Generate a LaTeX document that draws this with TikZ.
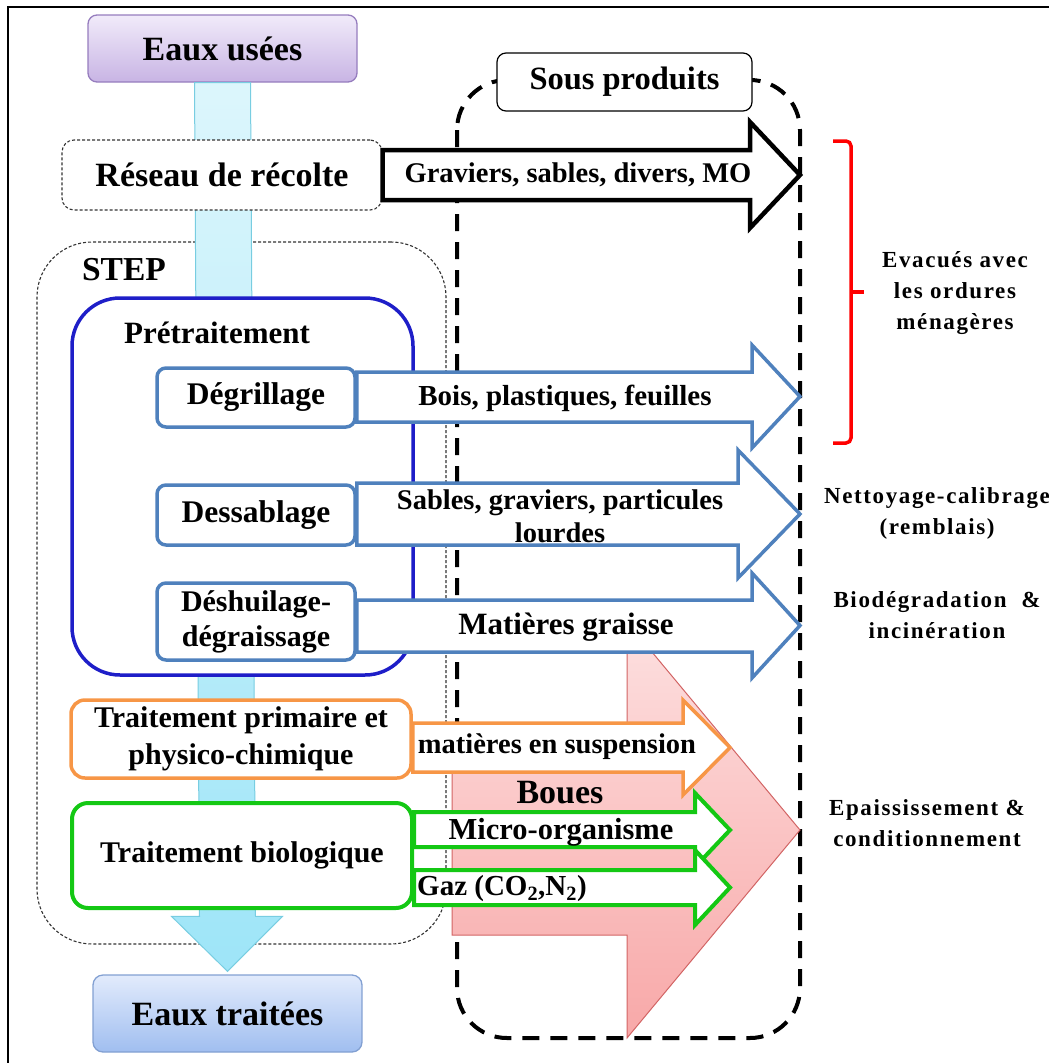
\documentclass[tikz,border=0pt]{standalone}
\usepackage{fontspec}
\setmainfont{Liberation Serif}
\usetikzlibrary{calc}

\definecolor{pretblue}{RGB}{30,30,200}
\definecolor{stblue}{RGB}{79,129,189}
\definecolor{orng}{RGB}{247,150,70}
\definecolor{grn}{RGB}{20,200,20}
\definecolor{pinktop}{RGB}{253,224,224}
\definecolor{pinkbot}{RGB}{248,168,168}
\definecolor{pinkline}{RGB}{210,100,100}
\definecolor{bandtop}{RGB}{220,246,252}
\definecolor{bandbot}{RGB}{158,229,248}
\definecolor{bandline}{RGB}{120,205,225}
\definecolor{eutop}{RGB}{241,235,250}
\definecolor{eubot}{RGB}{200,180,228}
\definecolor{euline}{RGB}{150,125,190}
\definecolor{ettop}{RGB}{226,235,252}
\definecolor{etbot}{RGB}{160,190,240}
\definecolor{etline}{RGB}{130,160,210}

\newcommand\fsz[2]{\fontsize{#1}{#2}\selectfont\bfseries}

% block arrow: style, start anchor, body top, body bottom, shoulder x, head top, head bottom, tip x
\newcommand\blockarrow[8]{%
  \draw[#1] (#2 |- 0,#3) -- (#5,#3) -- (#5,#6) -- (#8,{(#6+#7)/2})
    -- (#5,#7) -- (#5,#4) -- (#2 |- 0,#4) -- cycle;}

\tikzset{
  lbl/.style={inner sep=0pt, align=center, text=black},
  thindash/.style={draw=black!80, line width=1.1pt, dash pattern=on 3pt off 2pt},
  substep/.style={draw=stblue, line width=3.5pt, fill=white, rounded corners=9pt,
    minimum width=198pt, align=center, font=\fsz{31.5}{35}},
  stubarrow/.style={draw=stblue, line width=3.5pt, fill=white, line join=miter},
}

\begin{document}
\begin{tikzpicture}[x=1pt, y=-1pt]
\useasboundingbox (0,0) rectangle (1049,1063);

% frame edges
\draw[line width=2.2pt] (8,1063) -- (8,7) -- (1049,7);

% by-products enclosure
\draw[line width=4pt, dash pattern=on 17pt off 11pt, rounded corners=50pt]
  (457,80) rectangle (800,1038);

% STEP enclosure
\node[thindash, rounded corners=55pt, minimum width=409pt, minimum height=702pt]
  (step) at (241.5,593) {};
\node[lbl, font=\fsz{33.5}{38}] (steplbl) at (124,270) {STEP};

% input / output boxes
\node[draw=euline, line width=1.3pt, rounded corners=9pt, top color=eutop, bottom color=eubot,
  minimum width=269pt, minimum height=67pt, font=\fsz{34}{38}] (eu) at (222.5,48.5) {Eaux usées};
\node[draw=etline, line width=1.3pt, rounded corners=10pt, top color=ettop, bottom color=etbot,
  minimum width=269pt, minimum height=77pt, font=\fsz{34}{38}] (et) at (227.5,1013.5) {Eaux traitées};

% main water flow
\draw[draw=bandline, line width=1pt, top color=bandtop, bottom color=bandbot]
  ($(eu.south)+(-28,0)$) -- ($(et.north)+(-28,-58)$) -- ($(et.north)+(-56,-58)$)
  -- ($(et.north)+(0,-3)$) -- ($(et.north)+(55,-58)$) -- ($(et.north)+(28,-58)$)
  -- ($(eu.south)+(28,0)$) -- cycle;

% collection network
\node[thindash, fill=white, rounded corners=12pt, minimum width=320pt, minimum height=70pt,
  font=\fsz{34}{38}] (res) at (222,175) {Réseau de récolte};

% pretreatment block
\node[draw=pretblue, line width=3.5pt, fill=white, rounded corners=48pt,
  minimum width=341pt, minimum height=377pt] (pre) at (242.5,486.5) {};
\node[lbl, font=\fsz{31}{35}] (prelbl) at (217,333) {Prétraitement};

% by-products label
\node[draw=black, line width=1.2pt, fill=white, rounded corners=9pt, minimum width=255pt,
  minimum height=58pt, font=\fsz{32.5}{36}] (sp) at (624.5,82) {Sous produits};

% sludge arrow
\draw[draw=pinkline, line width=1pt, top color=pinktop, bottom color=pinkbot]
  (452,750) -- (627,750) -- (627,622) -- (800,830) -- (627,1038) -- (627,935) -- (452,935) -- cycle;
\node[lbl, font=\fsz{34}{38}] (boues) at (560,793) {Boues};

% pretreatment steps
\node[substep, minimum height=59pt] (deg) at (256,397.5) {Dégrillage};
\node[substep, minimum height=60pt] (des) at (256,515) {Dessablage};
\node[substep, minimum height=77pt, font=\fsz{30}{35}] (desh) at (256,621.5) {Déshuilage-\\dégraissage};

% primary and biological treatment
\node[draw=orng, line width=3.5pt, fill=white, rounded corners=14pt, minimum width=340pt,
  minimum height=78pt, align=center, font=\fsz{30}{37}] (tp) at (241,739)
  {Traitement primaire et\\physico-chimique};
\node[draw=grn, line width=4pt, fill=white, rounded corners=16pt, minimum width=340pt,
  minimum height=105pt, font=\fsz{30}{34}] (tb) at (242,855.5) {Traitement biologique};

% by-product arrows
\blockarrow{draw=black, line width=4.5pt, fill=white, line join=miter}{res.east}{150}{200}{750}{122}{228}{800}
\node[lbl, font=\fsz{28.5}{32}] (grav) at (578,175) {Graviers, sables, divers, MO};

\blockarrow{stubarrow}{des.east}{483}{545}{738}{450}{578}{800}
\node[lbl, font=\fsz{28.5}{33}] (sab) at (560,516) {Sables, graviers, particules\\lourdes};
\blockarrow{stubarrow}{deg.east}{372}{422}{752}{345}{448}{800}
\node[lbl, font=\fsz{29}{32}] (bois) at (565,398) {Bois, plastiques, feuilles};
\blockarrow{stubarrow}{desh.east}{600}{652}{752}{573}{678}{800}
\node[lbl, font=\fsz{31}{34}] (graisse) at (566,627) {Matières graisse};

\blockarrow{draw=orng, line width=3.5pt, fill=white}{tp.east}{723}{772}{683}{700}{795}{730}
\node[lbl, font=\fsz{28.5}{32}] (susp) at (557,747) {matières en suspension};

\blockarrow{draw=grn, line width=4pt, fill=white}{tb.east}{812}{847}{695}{793}{867}{730}
\node[lbl, font=\fsz{30.5}{32}] (micro) at (561,832) {Micro-organisme};
\blockarrow{draw=grn, line width=4pt, fill=white}{tb.east}{870}{905}{695}{850}{925}{730}
\node[lbl, anchor=west, font=\fsz{29}{32}] (gaz) at (417,889) {Gaz (CO$_{\mathbf 2}$,N$_{\mathbf 2}$)};

% disposal routes
\draw[red, line width=3.5pt, rounded corners=5pt] (833,141) -- (851,141) -- (851,443) -- (833,443);
\draw[red, line width=3.5pt] (851,292) -- (864,292);

\tikzset{dest/.style={lbl, font={\fsz{23}{31}\addfontfeature{LetterSpace=7}}}}
\node[dest] (evac) at (955,293) {Evacués avec\\les ordures\\ménagères};
\node[dest] (netto) at (937,513) {Nettoyage-calibrage\\(remblais)};
\node[dest] (biod) at (937,615) {Biodégradation~~\&\\incinération};
\node[dest] (epai) at (927,823) {Epaississement \&\\conditionnement};
\end{tikzpicture}
\end{document}
